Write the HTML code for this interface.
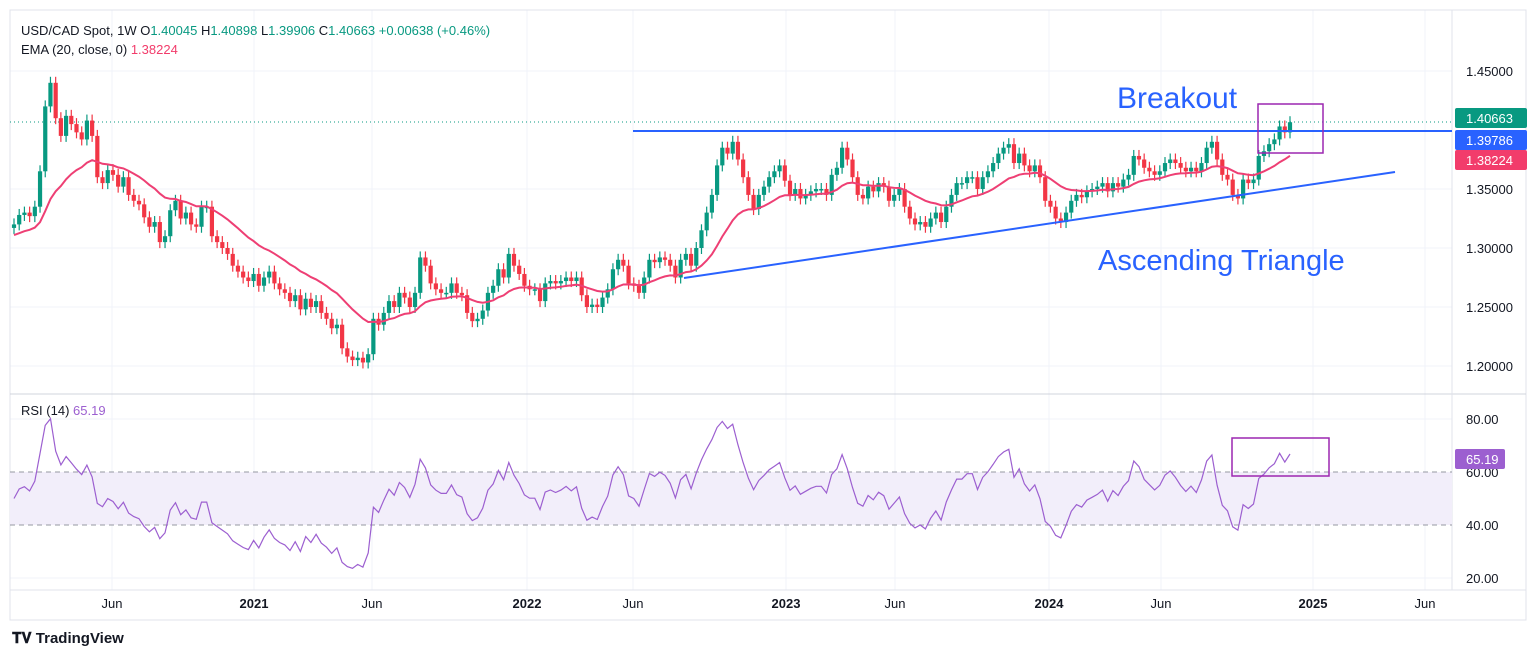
<!DOCTYPE html>
<html><head><meta charset="utf-8"><style>
body{margin:0;background:#fff;font-family:"Liberation Sans",sans-serif;}
svg text{font-family:"Liberation Sans",sans-serif;}
</style></head><body>
<svg id="c" width="1536" height="658" xmlns="http://www.w3.org/2000/svg">
<rect x="0" y="0" width="1536" height="658" fill="#fff"/>
<g id="grid"></g>
<rect x="10" y="10" width="1516" height="610" fill="none" stroke="#e0e3eb"/>
<line x1="10" y1="394" x2="1526" y2="394" stroke="#d1d4dc"/>
<line x1="10" y1="590" x2="1526" y2="590" stroke="#e0e3eb"/>
<line x1="1452" y1="10" x2="1452" y2="590" stroke="#e0e3eb"/>
<rect x="10" y="472" width="1442" height="53" fill="#f2eefa"/>
<line x1="10" y1="472" x2="1452" y2="472" stroke="#9598a1" stroke-dasharray="5,4"/>
<line x1="10" y1="525" x2="1452" y2="525" stroke="#9598a1" stroke-dasharray="5,4"/>
<line x1="10" y1="122" x2="1452" y2="122" stroke="#089981" stroke-dasharray="1,3"/>
<g id="candles"></g>
<path id="ema" fill="none" stroke="#ee3f74" stroke-width="2"/>
<path id="rsi" fill="none" stroke="#9c5fd0" stroke-width="1.2"/>
<line x1="633" y1="131" x2="1452" y2="131" stroke="#2962ff" stroke-width="2"/>
<line x1="684" y1="278" x2="1395" y2="172" stroke="#2962ff" stroke-width="2"/>
<rect x="1258" y="104" width="65" height="49" fill="none" stroke="#9c27b0" stroke-width="1.5"/>
<rect x="1232" y="438" width="97" height="38" fill="none" stroke="#9c27b0" stroke-width="1.5"/>
<text x="1117" y="108" font-size="30" fill="#2962ff">Breakout</text>
<text x="1098" y="270" font-size="29" fill="#2962ff">Ascending Triangle</text>
<text x="21" y="35" font-size="13" fill="#131722">USD/CAD Spot, 1W  <tspan fill="#131722">O</tspan><tspan fill="#089981">1.40045</tspan> H<tspan fill="#089981">1.40898</tspan> L<tspan fill="#089981">1.39906</tspan> C<tspan fill="#089981">1.40663 +0.00638 (+0.46%)</tspan></text>
<text x="21" y="54" font-size="13" fill="#131722">EMA (20, close, 0) <tspan fill="#f23c6b">1.38224</tspan></text>
<text x="21" y="415" font-size="13" fill="#131722">RSI (14) <tspan fill="#9c5fd0">65.19</tspan></text>
<g id="yaxis"></g>
<g id="xaxis"></g>
<g>
<rect x="1455" y="108" width="72" height="20" rx="2" fill="#089981"/><text x="1466" y="123" font-size="13" fill="#fff">1.40663</text>
<rect x="1455" y="130" width="72" height="20" rx="2" fill="#2962ff"/><text x="1466" y="145" font-size="13" fill="#fff">1.39786</text>
<rect x="1455" y="150" width="72" height="20" rx="2" fill="#f23c6b"/><text x="1466" y="165" font-size="13" fill="#fff">1.38224</text>
<rect x="1455" y="449" width="50" height="20" rx="2" fill="#9c5fd0"/><text x="1466" y="464" font-size="13" fill="#fff">65.19</text>
</g>
<text x="12" y="643" font-size="15" font-weight="bold" fill="#131722">𝐓𝐕 TradingView</text>
</svg>
<script>
const closes=[1.320,1.328,1.330,1.327,1.335,1.365,1.420,1.440,1.410,1.395,1.412,1.405,1.398,1.392,1.408,1.395,
1.360,1.355,1.366,1.362,1.352,1.360,1.345,1.340,1.337,1.326,1.318,1.322,1.305,1.310,1.332,1.340,1.325,1.330,1.320,1.318,1.335,1.335,1.310,1.305,1.300,1.295,1.285,1.280,1.275,1.272,
1.278,1.268,1.275,1.280,1.270,1.265,1.262,1.255,1.260,1.248,1.257,1.250,1.255,1.245,1.240,1.232,1.235,1.215,1.208,1.205,1.207,1.203,1.210,1.240,1.235,1.245,1.255,1.250,1.262,1.258,1.250,1.262,1.292,1.285,1.270,1.265,1.262,1.262,1.270,1.262,1.260,1.245,1.238,1.240,1.247,1.262,1.268,1.282,1.275,1.295,1.285,1.278,1.268,1.265,
1.265,1.255,1.270,1.272,1.270,1.272,1.275,1.272,1.275,1.260,1.250,1.252,1.250,1.258,1.265,1.282,1.290,1.285,1.270,1.268,1.262,1.275,1.290,1.288,1.292,1.290,1.285,1.275,1.290,1.295,1.285,1.300,1.315,1.330,1.345,1.370,1.385,1.380,1.390,1.375,1.360,1.345,1.333,1.345,1.352,1.360,1.365,1.370,1.357,
1.345,1.350,1.342,1.345,1.348,1.350,1.350,1.345,1.362,1.368,1.385,1.375,1.360,1.345,1.342,1.352,1.348,1.355,1.352,1.340,1.345,1.350,1.335,1.325,1.320,1.322,1.318,1.325,1.330,1.322,1.335,1.345,1.355,1.355,1.360,1.360,1.350,1.360,1.365,1.372,1.380,1.385,1.388,1.372,1.380,1.370,1.365,1.370,1.360,1.340,1.335,1.325,1.322,
1.330,1.340,1.345,1.343,1.348,1.350,1.352,1.355,1.348,1.355,1.352,1.358,1.362,1.378,1.375,1.368,1.365,1.362,1.365,1.372,1.375,1.372,1.368,1.365,1.368,1.365,1.372,1.385,1.390,1.375,1.362,1.358,1.345,1.342,1.358,1.355,1.358,1.378,1.382,1.388,1.392,1.403,1.398,1.4066];
const priceTicks=[1.45,1.35,1.30,1.25,1.20];
const rsiTicks=[80,60,40,20];
const timeLabels=["Jun","2021","Jun","2022","Jun","2023","Jun","2024","Jun","2025","Jun"];
const timeLabelX=[112,254,372,527,633,786,895,1049,1161,1313,1425];
const NS="http://www.w3.org/2000/svg";
const py=p=>71+(1.45-p)*1180;
const ry=v=>578-(v-20)*2.65;
const step=1276/(closes.length-1);
const px=i=>14+i*step;
function mk(tag,attrs,parent){const e=document.createElementNS(NS,tag);for(const k in attrs)e.setAttribute(k,attrs[k]);parent.appendChild(e);return e;}
const grid=document.getElementById('grid'),ya=document.getElementById('yaxis'),xa=document.getElementById('xaxis');
priceTicks.forEach(p=>{mk('line',{x1:10,x2:1452,y1:py(p),y2:py(p),stroke:'#f0f3fa'},grid);
const t=mk('text',{x:1466,y:py(p)+5,'font-size':13,fill:'#131722'},ya);t.textContent=p.toFixed(5);

});
rsiTicks.forEach(v=>{if(v==80||v==20)mk('line',{x1:10,x2:1452,y1:ry(v),y2:ry(v),stroke:'#f0f3fa'},grid);
const t=mk('text',{x:1466,y:ry(v)+5,'font-size':13,fill:'#131722'},ya);t.textContent=v.toFixed(2);

});
timeLabels.forEach((l,i)=>{const x=timeLabelX[i];mk('line',{x1:x,x2:x,y1:10,y2:590,stroke:'#f0f3fa'},grid);
const t=mk('text',{x:x,y:608,'font-size':13,'text-anchor':'middle',fill:'#131722','font-weight':/^\d/.test(l)?'bold':'normal'},xa);t.textContent=l;

});
const cg=document.getElementById('candles');
closes.forEach((c,i)=>{const o=i?closes[i-1]:c-0.003;const up=c>=o;const col=up?'#089981':'#f23645';
const top=py(Math.max(o,c)),bot=py(Math.min(o,c));const x=px(i);
const w=mk('line',{x1:x,x2:x,y1:top-6,y2:bot+6,stroke:col,'stroke-width':1.2},cg);


const r=mk('rect',{x:x-2.1,y:top,width:4.2,height:Math.max(1.5,bot-top),fill:col},cg);

});
// EMA 20
let e=closes[0]-0.01,k=2/21,d='';
closes.forEach((c,i)=>{e=c*k+e*(1-k);d+=(i?'L':'M')+px(i).toFixed(1)+' '+py(e).toFixed(1);});
document.getElementById('ema').setAttribute('d',d);
// RSI 14 (Wilder)
let ag=0.004,al=0.004,rd='';
closes.forEach((c,i)=>{if(i){const ch=c-closes[i-1];ag=(ag*13+Math.max(ch,0))/14;al=(al*13+Math.max(-ch,0))/14;}
const r=100-100/(1+ag/(al||1e-9));rd+=(i?'L':'M')+px(i).toFixed(1)+' '+ry(r).toFixed(1);});
document.getElementById('rsi').setAttribute('d',rd);
</script>
</body></html>
